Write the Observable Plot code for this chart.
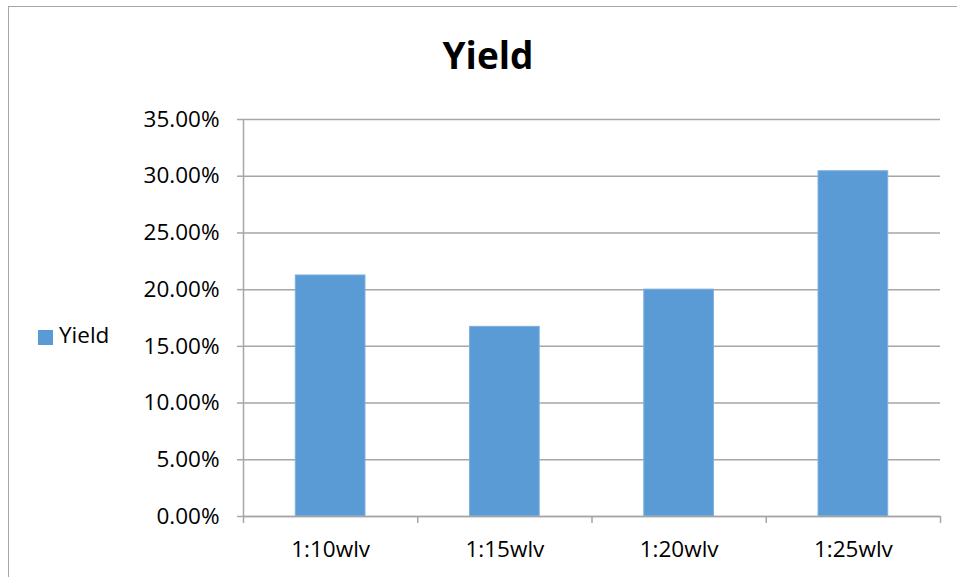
<!DOCTYPE html>
<html>
<head>
<meta charset="utf-8">
<script src="https://cdn.jsdelivr.net/npm/d3@7"></script>
<script src="https://cdn.jsdelivr.net/npm/@observablehq/plot@0.6"></script>
<style>
  html, body { margin: 0; padding: 0; background: #fff; overflow: hidden; }
  #chart { position: relative; width: 957px; height: 577px; font-family: "Open Sans", sans-serif; color: #000; }
  #frame { position: absolute; left: 8px; top: 6px; width: 980px; height: 600px; border: 1.5px solid #a6a6a6; box-sizing: border-box; }
  #title { position: absolute; left: 388px; width: 200px; top: 29px; text-align: center; font-size: 37px; font-weight: 700; line-height: normal; }
  #legend { position: absolute; left: 38px; top: 319px; font-size: 22.5px; line-height: normal; display: flex; align-items: center; }
  #legend .swatch { display: inline-block; width: 15px; height: 15px; background: #5b9bd5; margin-right: 6px; margin-top: 6px; }
  #plot { position: absolute; left: 0; top: 0; }
</style>
</head>
<body>
<div id="chart">
  <div id="frame"></div>
  <div id="plot"></div>
  <div id="title">Yield</div>
  <div id="legend"><span class="swatch"></span><span>Yield</span></div>
</div>
<script>
// Extraction yield per solvent ratio
const categories = ["1:10wlv", "1:15wlv", "1:20wlv", "1:25wlv"];
const yieldValues = [0.2125, 0.1672, 0.2000, 0.3044];
const yTicks = [0, 0.05, 0.10, 0.15, 0.20, 0.25, 0.30, 0.35];

const rows = categories.map((c, i) => ({category: c, index: i, value: yieldValues[i]}));
const boundaries = d3.range(categories.length + 1);
const centers = categories.map((c, i) => i + 0.5);

const gray = "#a6a6a6";
const barColor = "#5b9bd5";

const chart = Plot.plot({
  width: 957,
  height: 577,
  marginTop: 119,
  marginBottom: 61,
  marginLeft: 243,
  marginRight: 17,
  style: {fontFamily: "Open Sans, sans-serif", fontSize: "22.5px", color: "#000", background: "transparent"},
  x: {domain: [0, categories.length], axis: null, label: null},
  y: {domain: [0, 0.35], axis: null, label: null},
  marks: [
    Plot.gridY(yTicks, {stroke: gray, strokeOpacity: 1, strokeWidth: 1.5}),
    Plot.rectY(rows, {
      x1: d => d.index + 0.3,
      x2: d => d.index + 0.7,
      y: "value",
      fill: barColor,
      stroke: "#7fb0de",
      strokeWidth: 1,
      inset: 0
    }),
    Plot.axisY(yTicks, {
      tickFormat: d3.format(".2%"),
      tickSize: 6,
      tickPadding: 18,
      stroke: gray,
      strokeWidth: 1.5,
      fill: "#000",
      label: null
    }),
    Plot.ruleX([0], {y1: 0, y2: 0.35, stroke: gray, strokeWidth: 1.5}),
    Plot.ruleY([0], {stroke: gray, strokeWidth: 1.5}),
    Plot.axisX(boundaries, {tickSize: 7, tickFormat: () => "", stroke: gray, strokeWidth: 1.5, label: null}),
    Plot.axisX(centers, {
      tickSize: 0,
      tickPadding: 25,
      tickFormat: v => categories[Math.floor(v)],
      fill: "#000",
      label: null
    })
  ]
});

document.getElementById("plot").appendChild(chart);
</script>
</body>
</html>
